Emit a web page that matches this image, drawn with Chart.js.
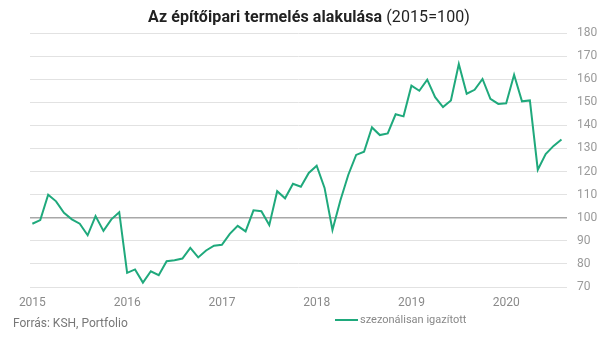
<!DOCTYPE html>
<html>
<head>
<meta charset="utf-8">
<script src="https://cdn.jsdelivr.net/npm/chart.js@4/dist/chart.umd.min.js"></script>
<style>
  html, body { margin: 0; padding: 0; background: #fff; }
  #wrap { position: relative; width: 614px; height: 339px; overflow: hidden; font-family: Roboto, "Liberation Sans", sans-serif; }
  #c { position: absolute; left: 0; top: 0; }
  #title { position: absolute; left: 0; width: 614px; top: 7px; text-align: center; padding-left: 4px; box-sizing: border-box; font-size: 16px; color: #222; letter-spacing: 0.1px; }
  #title b { font-weight: 700; }
  #source { position: absolute; left: 13px; top: 316px; font-size: 12px; color: #777; }
  #legend { position: absolute; left: 335px; top: 313px; font-size: 11px; color: #888; display: flex; align-items: center; }
  #legend span.ln { display: inline-block; width: 23px; height: 2px; background: #1fa97c; margin-right: 2px; }
</style>
</head>
<body>
<div id="wrap">
  <canvas id="c" width="614" height="339"></canvas>
  <div id="title"><b>Az építőipari termelés alakulása</b> (2015=100)</div>
  <div id="source">Forrás: KSH, Portfolio</div>
  <div id="legend"><span class="ln"></span>szezonálisan igazított</div>
</div>
<script>
// Monthly values, Jan 2015 – Aug 2020 (2015 = 100), seasonally adjusted
const values2015 = [97.4, 99, 110, 107.1, 102.1, 99.3, 97.4, 92.4, 100.7, 94.3, 99.3, 102.4];
const values2016 = [76.1, 77.6, 71.9, 76.8, 75.1, 81.2, 81.6, 82.3, 86.9, 82.8, 85.8, 87.9];
const values2017 = [88.3, 93, 96.5, 94.1, 103.2, 102.8, 96.8, 111.5, 108.4, 114.7, 113.4, 119.4];
const values2018 = [122.5, 112.9, 94.7, 107.5, 118.5, 127.2, 128.6, 139.1, 135.8, 136.5, 144.8, 143.9];
const values2019 = [157.2, 155, 159.8, 152.2, 147.9, 150.8, 166.6, 153.7, 155.4, 160.1, 151.5, 149.3];
const values2020 = [149.6, 161.9, 150.4, 150.8, 120.8, 127.6, 131.1, 133.9];
const yearLabels = ["2015", "2016", "2017", "2018", "2019", "2020"];
const seriesLabel = "szezonálisan igazított";
const yTicks = [70, 80, 90, 100, 110, 120, 130, 140, 150, 160, 170, 180];

const allValues = [].concat(values2015, values2016, values2017, values2018, values2019, values2020);
const points = allValues.map((v, i) => ({ x: i, y: v }));

new Chart(document.getElementById('c'), {
  type: 'line',
  data: {
    datasets: [{
      label: seriesLabel,
      data: points,
      borderColor: '#1fa97c',
      borderWidth: 2,
      pointRadius: 0,
      tension: 0,
      fill: false
    }]
  },
  options: {
    responsive: false,
    animation: false,
    layout: { padding: { left: 30, top: 33, right: 0, bottom: 0 } },
    plugins: { legend: { display: false }, title: { display: false }, tooltip: { enabled: false } },
    scales: {
      x: {
        type: 'linear',
        min: -0.3,
        max: 67.7,
        afterFit: s => { s.height = 52; },
        afterBuildTicks: s => { s.ticks = yearLabels.map((_, i) => ({ value: i * 12 })); },
        grid: { display: false, drawTicks: false },
        border: { display: false },
        ticks: {
          padding: 9,
          color: '#8a8a8a',
          font: { family: 'Roboto', size: 12 },
          maxRotation: 0,
          autoSkip: false,
          callback: v => yearLabels[Math.round(v / 12)]
        }
      },
      y: {
        position: 'right',
        min: 70,
        max: 180,
        afterFit: s => { s.width = 47; },
        afterBuildTicks: s => { s.ticks = yTicks.map(v => ({ value: v })); },
        grid: {
          drawTicks: false,
          color: ctx => ctx.tick && ctx.tick.value === 100 ? '#a8a8a8' : '#e2e2e2',
          lineWidth: ctx => ctx.tick && ctx.tick.value === 100 ? 1.5 : 1
        },
        border: { display: false },
        ticks: {
          padding: 10,
          color: '#9a9a9a',
          font: { family: 'Roboto', size: 12 }
        }
      }
    }
  }
});
</script>
</body>
</html>
